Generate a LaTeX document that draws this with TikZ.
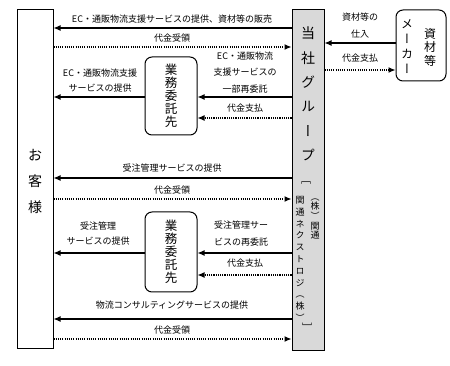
\documentclass[tikz,border=0pt]{standalone}
\usepackage{fontspec}
\setmainfont{Noto Sans CJK JP}
\newfontfamily\vfont[RawFeature=+vert]{Noto Sans CJK JP}
\usetikzlibrary{arrows.meta}
\definecolor{barfill}{HTML}{D9D9D9}
\tikzset{
  box/.style={draw, line width=1pt, inner sep=0pt},
  rbox/.style={box, rounded corners=7pt},
  lbl/.style={font=\fontsize{9}{10}\selectfont, inner sep=0pt},
  sol/.style={line width=1.1pt, -{Latex[length=7pt,width=6pt]}},
  dotl/.style={line width=1.1pt, dash pattern=on 1.1pt off 1.1pt, -{Latex[length=7pt,width=6pt]}},
  vtxt/.style={inner sep=0pt, align=center}
}
\begin{document}
\begin{tikzpicture}[x=1pt,y=-1pt]
\useasboundingbox (0,0) rectangle (450,366);
% boxes
\node[box, minimum width=36pt, minimum height=338pt] (cust) at (35,179) {};
\node[vtxt, font=\fontsize{14}{26}\selectfont] (custtxt) at (35,181) {お\\客\\様};
\node[box, fill=barfill, minimum width=32pt, minimum height=340pt] (bar) at (308,180) {};
\node[vtxt, font=\vfont\fontsize{14}{24.4}\selectfont] (bartitle) at (308,94) {当\\社\\グ\\ル\\ー\\プ};
\node[vtxt, font=\vfont\fontsize{10}{12}\selectfont] (brtop) at (306,183) {［};
\node[vtxt, font=\vfont\fontsize{9}{9.6}\selectfont] (colr) at (315,219) {（\\株\\）\\関\\通};
\node[vtxt, font=\vfont\fontsize{9}{11.8}\selectfont] (coll) at (300,259) {関\\通\\ネ\\ク\\ス\\ト\\ロ\\ジ\\（\\株\\）};
\node[vtxt, font=\vfont\fontsize{10}{12}\selectfont] (brbot) at (307,327) {］};
\node[rbox, minimum width=50pt, minimum height=71pt] (maker) at (421,45.5) {};
\node[vtxt, font=\vfont\fontsize{12}{13.5}\selectfont] (mk1) at (430,47) {資\\材\\等};
\node[vtxt, font=\vfont\fontsize{12}{15}\selectfont] (mk2) at (407,47) {メ\\ー\\カ\\ー};
\node[rbox, minimum width=52pt, minimum height=78pt] (gyo1) at (171,96) {};
\node[vtxt, font=\fontsize{12.5}{13}\selectfont] (gyo1t) at (171,96) {業\\務\\委\\託\\先};
\node[rbox, minimum width=52pt, minimum height=80pt] (gyo2) at (171,252) {};
\node[vtxt, font=\fontsize{12.5}{13}\selectfont] (gyo2t) at (171,252) {業\\務\\委\\託\\先};
% connectors
\draw[sol] (bar.west |- 0,28) -- (cust.east |- 0,28);
\node[lbl] (l1) at (172,19) {EC・通販物流支援サービスの提供、資材等の販売};
\draw[dotl] (cust.east |- 0,47) -- (bar.west |- 0,47);
\node[lbl] (l2) at (172,38) {代金受領};
\draw[sol] (gyo1.west |- 0,97) -- (cust.east |- 0,97);
\node[lbl] (l3a) at (100,73) {EC・通販物流支援};
\node[lbl] (l3b) at (100,88) {サービスの提供};
\draw[sol] (bar.west |- 0,97) -- (gyo1.east |- 0,97);
\node[lbl] (l4a) at (245,56) {EC・通販物流};
\node[lbl] (l4b) at (245,72) {支援サービスの};
\node[lbl] (l4c) at (245,89) {一部再委託};
\draw[dotl] (bar.west |- 0,118) -- (gyo1.east |- 0,118);
\node[lbl] (l5) at (245,108) {代金支払};
\draw[sol] (maker.west |- 0,43) -- (bar.east |- 0,43);
\node[lbl] (l6a) at (360,17) {資材等の};
\node[lbl] (l6b) at (360,34) {仕入};
\draw[dotl] (bar.east |- 0,70) -- (maker.west |- 0,70);
\node[lbl] (l7) at (360,58) {代金支払};
\draw[sol] (bar.west |- 0,178) -- (cust.east |- 0,178);
\node[lbl] (l8) at (172,168) {受注管理サービスの提供};
\draw[dotl] (cust.east |- 0,199) -- (bar.west |- 0,199);
\node[lbl] (l9) at (172,190) {代金受領};
\draw[sol] (gyo2.west |- 0,253) -- (cust.east |- 0,253);
\node[lbl] (l10a) at (98,226) {受注管理};
\node[lbl] (l10b) at (98,241) {サービスの提供};
\draw[sol] (bar.west |- 0,253) -- (gyo2.east |- 0,253);
\node[lbl] (l11a) at (241,225) {受注管理サー};
\node[lbl] (l11b) at (241,242) {ビスの再委託};
\draw[dotl] (bar.west |- 0,275) -- (gyo2.east |- 0,275);
\node[lbl] (l12) at (245,263) {代金支払};
\draw[sol] (bar.west |- 0,319) -- (cust.east |- 0,319);
\node[lbl] (l13) at (172,305) {物流コンサルティングサービスの提供};
\draw[dotl] (cust.east |- 0,339) -- (bar.west |- 0,339);
\node[lbl] (l14) at (172,330) {代金受領};
\end{tikzpicture}
\end{document}
